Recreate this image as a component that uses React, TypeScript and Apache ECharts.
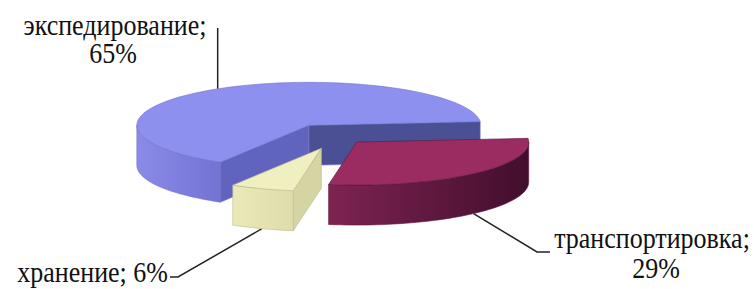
import React, { useEffect, useRef } from "react";
import * as echarts from "echarts";

// ---- data ----
const categories = ["экспедирование", "хранение", "транспортировка"];
const shares = [65, 6, 29];

// ---- layout / style ----
const PIE = { cx: 338, cy: 137, rx: 172, ry: 43, depth: 40, startDeg: 5 };
const EXPLODE = [0.32, 0.28, 0.16];

const PALETTE = [
  { top: "#8e90ef", wallA: "#8a8ae9", wallB: "#7273d3", cut0: "#4a5093", cut1: "#6164bf", edge: "#6f71c9" },
  { top: "#f0efc2", wallA: "#eae9b8", wallB: "#dedcaa", cut0: "#d2d09f", cut1: "#d5d4a3", edge: "#bdbb8e" },
  { top: "#9b2c62", wallA: "#7e2352", wallB: "#420e2c", cut0: "#5a1538", cut1: "#5a1538", edge: "#5e173d" },
];

const FONT_FAMILY = "Liberation Serif";
const FONT_SIZE = 26;
const TEXT_SCALE_Y = 1.12;

type Line = { kind: "name" | "pct" | "both"; x: number; y: number; align: string };
type LabelLayout = { anchor: "top" | "bottom"; path: [number | null, number][]; lines: Line[] };

const LABELS: LabelLayout[] = [
  {
    anchor: "top",
    path: [[null, 28]],
    lines: [
      { kind: "name", x: 115, y: 25, align: "center" },
      { kind: "pct", x: 113, y: 53, align: "center" },
    ],
  },
  {
    anchor: "bottom",
    path: [[178, 277], [170, 277]],
    lines: [{ kind: "both", x: 168, y: 272, align: "right" }],
  },
  {
    anchor: "bottom",
    path: [[537, 252], [550, 252]],
    lines: [
      { kind: "name", x: 652, y: 238, align: "center" },
      { kind: "pct", x: 656, y: 268, align: "center" },
    ],
  },
];

const total = shares.reduce((a, b) => a + b, 0);
const cumulative = shares.map((_, i) => shares.slice(0, i).reduce((a, b) => a + b, 0));

const rad = (d: number) => (d * Math.PI) / 180;

function sliceGeom(i: number) {
  const a0 = PIE.startDeg + (360 * cumulative[i]) / total;
  const a1 = a0 + (360 * shares[i]) / total;
  const mid = (a0 + a1) / 2;
  const e = EXPLODE[i];
  const c = [PIE.cx + e * PIE.rx * Math.cos(rad(mid)), PIE.cy - e * PIE.ry * Math.sin(rad(mid))];
  return { a0, a1, mid, c };
}

function pt(c: number[], deg: number, z: number): number[] {
  return [c[0] + PIE.rx * Math.cos(rad(deg)), c[1] - PIE.ry * Math.sin(rad(deg)) + z];
}

function arc(c: number[], from: number, to: number, z: number): number[][] {
  const pts: number[][] = [];
  const n = Math.max(2, Math.ceil(Math.abs(to - from) / 2));
  for (let k = 0; k <= n; k++) pts.push(pt(c, from + ((to - from) * k) / n, z));
  return pts;
}

function renderSlice(params: any, api: any) {
  const i = params.dataIndex;
  const { a0, a1, c } = sliceGeom(i);
  const top = [c[0], c[1]];
  const bot = [c[0], c[1] + PIE.depth];
  const col = PALETTE[i];
  const children: any[] = [];
  const stroke = { stroke: col.edge, lineWidth: 0.6 };

  if (Math.cos(rad(a0)) > 0) {
    children.push({
      type: "polygon",
      shape: { points: [top, pt(c, a0, 0), pt(c, a0, PIE.depth), bot] },
      style: { fill: col.cut0, ...stroke },
    });
  }
  if (Math.cos(rad(a1)) < 0) {
    children.push({
      type: "polygon",
      shape: { points: [top, pt(c, a1, 0), pt(c, a1, PIE.depth), bot] },
      style: { fill: col.cut1, ...stroke },
    });
  }
  for (const k of [0, 360]) {
    const s = Math.max(a0, 180 + k);
    const t = Math.min(a1, 360 + k);
    if (t > s) {
      const upper = arc(c, s, t, 0);
      const lower = arc(c, t, s, PIE.depth);
      children.push({
        type: "polygon",
        shape: { points: upper.concat(lower) },
        style: {
          fill: new echarts.graphic.LinearGradient(0, 0, 1, 0, [
            { offset: 0, color: col.wallA },
            { offset: 1, color: col.wallB },
          ]),
          ...stroke,
        },
      });
    }
  }
  children.push({
    type: "polygon",
    shape: { points: [top].concat(arc(c, a0, a1, 0)) },
    style: { fill: col.top, ...stroke },
  });
  return { type: "group", children };
}

function buildLabels() {
  const els: any[] = [];
  categories.forEach((name, i) => {
    const { mid, c } = sliceGeom(i);
    const lay = LABELS[i];
    const anchor = pt(c, mid, lay.anchor === "top" ? 0 : PIE.depth);
    const pts: number[][] = [anchor];
    for (const p of lay.path) pts.push([p[0] === null ? anchor[0] : p[0], p[1]]);
    els.push({
      type: "polyline",
      shape: { points: pts },
      style: { stroke: "#222", lineWidth: 1.5, fill: null },
    });
    const pct = Math.round((100 * shares[i]) / total) + "%";
    for (const ln of lay.lines) {
      const text = ln.kind === "name" ? name + ";" : ln.kind === "pct" ? pct : name + "; " + pct;
      els.push({
        type: "text",
        x: ln.x,
        y: ln.y,
        scaleY: TEXT_SCALE_Y,
        style: {
          text,
          fontFamily: FONT_FAMILY,
          fontSize: FONT_SIZE,
          fill: "#111",
          align: ln.align,
          verticalAlign: "middle",
        },
      });
    }
  });
  return els;
}

const CSS = `.pie3d-chart svg text { font-family: "Liberation Serif", "Times New Roman", serif !important; }`;

export default function App() {
  const ref = useRef<HTMLDivElement>(null);
  useEffect(() => {
    if (!ref.current) return;
    const chart = echarts.init(ref.current, undefined, { renderer: "svg" });
    chart.setOption({
      animation: false,
      backgroundColor: "#ffffff",
      series: [
        {
          type: "custom",
          coordinateSystem: "none",
          renderItem: renderSlice,
          data: shares.map((v, i) => ({ name: categories[i], value: [v, i] })),
        },
      ],
      graphic: buildLabels(),
    });
    return () => chart.dispose();
  }, []);
  return (
    <>
      <style>{CSS}</style>
      <div
        ref={ref}
        className="pie3d-chart"
        style={{ position: "fixed", left: 0, top: 0, width: 754, height: 289, background: "#fff" }}
      />
    </>
  );
}
